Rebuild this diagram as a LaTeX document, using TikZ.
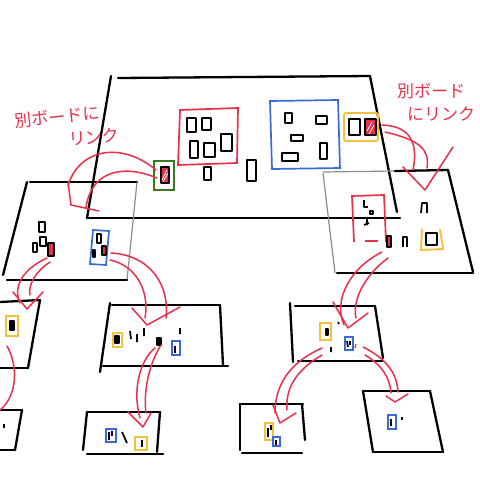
\documentclass[tikz,border=0pt]{standalone}
\usepackage{fontspec}
\newfontfamily\cjk{Noto Sans CJK JP}
\definecolor{skred}{HTML}{E8304A}
\definecolor{skblue}{HTML}{3B6AD6}
\definecolor{skyel}{HTML}{F5C040}
\definecolor{skgreen}{HTML}{3A7A1E}
\tikzset{
  board/.style={line width=2.3pt, line cap=round, line join=round},
  lightboard/.style={line width=1.2pt, black!45},
  sq/.style={line width=1.7pt, line join=round},
  rbox/.style={draw=skred, line width=1.7pt},
  bbox/.style={draw=skblue, line width=1.7pt},
  ybox/.style={draw=skyel, line width=1.9pt},
  gbox/.style={draw=skgreen, line width=1.9pt},
  arr/.style={draw=skred, line width=1.5pt, line cap=round, line join=round},
  lbl/.style={text=skred, font=\cjk\fontsize{17}{20}\selectfont, inner sep=0pt}
}
\begin{document}
\begin{tikzpicture}[x=1pt,y=-1pt]
\useasboundingbox (0,0) rectangle (480,480);

% ---------- main board ----------
\draw[board] (118,78) -- (370,76);
\draw[board] (111,76) -- (87,218);
\draw[board] (370,76) -- (397,212);
\draw[board] (87,218) -- (400,218);

% red group
\draw[rbox] (180,110) -- (238,108) -- (237,163) -- (178,165) -- cycle;
\draw[sq] (187,118) rectangle (196,132);
\draw[sq] (202,118) rectangle (211,130);
\draw[sq] (190,141) rectangle (198,158);
\draw[sq] (204,143) rectangle (215,157);
\draw[sq] (221,134) rectangle (232,151);
\draw[sq] (204,167) rectangle (211,180);
\draw[sq] (247,160) rectangle (256,181);
% green link
\draw[gbox] (154,161) rectangle (174,190);
\draw[sq, fill=skred] (161,167) rectangle (169,183);
\draw[white, line width=0.8pt] (162,180) -- (167,170) (163,182) -- (168,173);
% blue group
\draw[bbox] (270,101) -- (338,100) -- (340,168) -- (272,169) -- cycle;
\draw[sq] (285,113) rectangle (292,123);
\draw[sq] (316,116) rectangle (327,124);
\draw[sq] (291,135) rectangle (303,141);
\draw[sq] (282,153) rectangle (298,161);
\draw[sq] (320,143) rectangle (327,159);
% yellow link
\draw[ybox, rounded corners=2pt] (344,113) rectangle (378,141);
\draw[sq] (349,119) rectangle (360,135);
\draw[sq, fill=skred] (365,119) rectangle (376,135);
\draw[white, line width=0.8pt] (367,131) -- (372,122) (369,134) -- (374,125);

% ---------- labels ----------
\node[lbl, rotate=6] (lab1a) at (57,117) {別ボードに};
\node[lbl, rotate=4] (lab1b) at (94,137) {リンク};
\node[lbl] (lab2a) at (431,91) {別ボード};
\node[lbl] (lab2b) at (441,114) {にリンク};

% ---------- left board ----------
\draw[board] (30,182) -- (137,182);
\draw[board] (27,182) -- (3,275);
\draw[lightboard] (137,182) -- (127,280);
\draw[board] (7,280) -- (127,280);
\draw[sq] (39,222) rectangle (45,232);
\draw[sq] (40,237) rectangle (46,246);
\draw[sq] (33,243) rectangle (37,252);
\draw[sq, fill=skred] (48,243) rectangle (54,256);
\draw[bbox] (93,230) -- (109,231) -- (106,265) -- (90,264) -- cycle;
\draw[sq] (97,234) rectangle (101,243);
\draw[sq, fill=skred] (102,246) rectangle (106,255);
\draw[sq] (93,250) rectangle (95,257);

% ---------- right board ----------
\draw[lightboard] (323,172) -- (395,171);
\draw[board] (395,171) -- (448,170);
\draw[lightboard] (323,173) -- (335,273);
\draw[board] (448,170) -- (473,272);
\draw[board] (337,273) -- (473,273);
\draw[rbox] (354,242) -- (352,196) -- (384,195) -- (386,242);
\draw[rbox] (365,241) -- (378,241);
\draw[sq] (364,200) -- (364,207) -- (368,207) (370,211) rectangle (373,214);
\draw[sq] (364,218) -- (367,218) -- (367,225) (364,225) -- (369,223);
\draw[sq, fill=skred] (387,236) rectangle (391,247);
\draw[sq] (403,247) -- (403,237) -- (407,237) -- (407,247);
\draw[sq] (421,213) -- (422,203) -- (427,203) -- (427,213);
\draw[ybox] (422,229) -- (421,250) -- (443,249) -- (440,229);
\draw[sq] (426,233) rectangle (437,245);

% ---------- second row ----------
% far left
\draw[board] (0,302) -- (40,300);
\draw[board] (40,300) -- (28,368);
\draw[board] (0,368) -- (28,368);
\draw[ybox] (6,316) rectangle (18,336);
\draw[sq, fill=black] (10,321) rectangle (14,330);
% middle-left
\draw[board] (112,305) -- (220,305);
\draw[board] (110,303) -- (100,372);
\draw[board] (103,366) -- (228,366);
\draw[board] (220,305) -- (223,365);
\draw[ybox] (113,333) rectangle (122,347);
\draw[sq, fill=black] (115,336) rectangle (119,343);
\draw[sq] (130,331) -- (131,339) (137,334) -- (137,342) (144,328) -- (144,336) (180,328) -- (180,334);
\draw[sq, fill=black] (157,338) rectangle (161,345);
\draw[bbox] (172,341) rectangle (180,355);
\draw[sq] (175,346) -- (175,353);
% right-middle
\draw[board] (295,306) -- (375,306);
\draw[board] (290,303) -- (293,362);
\draw[board] (298,361) -- (383,361);
\draw[board] (375,306) -- (383,358);
\draw[ybox] (320,323) rectangle (331,340);
\draw[sq, fill=black] (326,329) rectangle (328,335);
\draw[sq] (338,322) -- (339,324) (331,347) -- (331,352);
\draw[bbox] (345,337) rectangle (353,350);
\draw[sq] (347,341) -- (348,347) (350,341) -- (350,345);
\draw[draw=skred, line width=1.2pt] (356,344) -- (355,348);

% ---------- third row ----------
% far left
\draw[board] (0,410) -- (22,410);
\draw[board] (22,410) -- (15,450);
\draw[board] (0,450) -- (15,450);
\draw[sq] (4,424) -- (4,428);
% middle
\draw[board] (87,412) -- (160,412);
\draw[board] (87,412) -- (83,450);
\draw[board] (87,454) -- (163,454);
\draw[board] (160,412) -- (157,452);
\draw[bbox] (106,429) rectangle (116,442);
\draw[sq] (109,432) -- (109,440) (112,431) -- (112,436);
\draw[sq] (122,432) -- (127,443);
\draw[ybox] (135,437) rectangle (147,450);
\draw[sq] (142,440) -- (142,447);
% middle-right
\draw[board] (240,404) -- (303,404);
\draw[board] (240,404) -- (240,450);
\draw[board] (242,453) -- (302,453);
\draw[board] (302,404) -- (305,440);
\draw[ybox] (265,423) rectangle (273,440);
\draw[sq] (268,428) -- (268,437) (271,425) -- (271,430);
\draw[bbox] (273,437) rectangle (280,446);
\draw[sq] (276,440) -- (276,445);
% right
\draw[board] (363,391) -- (430,391);
\draw[board] (363,391) -- (373,452);
\draw[board] (373,452) -- (443,452);
\draw[board] (430,391) -- (443,452);
\draw[bbox] (388,415) rectangle (396,429);
\draw[sq] (391,419) -- (391,426);
\draw[sq] (402,417) -- (402,420);

% ---------- arrows ----------
\coordinate (g1) at (156,170); \coordinate (g2) at (157,178);
\draw[arr] (g1) .. controls (120,140) and (78,150) .. (68,186);
\draw[arr] (g2) .. controls (118,162) and (90,175) .. (86,208);
\draw[arr] (68,182) -- (71,205) -- (99,211);

\coordinate (y1) at (382,125); \coordinate (y2) at (385,132);
\draw[arr] (y1) .. controls (412,126) and (418,145) .. (413,170);
\draw[arr] (y2) .. controls (420,140) and (430,150) .. (427,168);
\draw[arr] (403,167) -- (425,190) -- (453,147);

\coordinate (l1) at (47,258); \coordinate (l2) at (50,262);
\draw[arr] (l1) .. controls (25,268) and (12,285) .. (20,303);
\draw[arr] (l2) .. controls (35,272) and (28,285) .. (30,295);
\draw[arr] (13,292) -- (27,309) -- (43,292);

\coordinate (b1) at (111,253); \coordinate (b2) at (110,260);
\draw[arr] (b1) .. controls (150,255) and (170,285) .. (166,318);
\draw[arr] (b2) .. controls (135,265) and (150,290) .. (145,318);
\draw[arr] (132,308) -- (147,325) -- (180,307);

\coordinate (f1) at (7,346);
\draw[arr] (f1) .. controls (18,365) and (18,395) .. (0,410);

\coordinate (m1) at (155,348); \coordinate (m2) at (161,345);
\draw[arr] (m1) .. controls (140,360) and (132,390) .. (140,418);
\draw[arr] (m2) .. controls (150,362) and (143,390) .. (146,413);
\draw[arr] (128,412) -- (143,427) -- (151,413);

\coordinate (r1) at (382,252); \coordinate (r2) at (388,258);
\draw[arr] (r1) .. controls (350,268) and (333,300) .. (344,325);
\draw[arr] (r2) .. controls (365,275) and (352,300) .. (356,318);
\draw[arr] (333,302) -- (348,328) -- (368,313);

\coordinate (p1) at (322,348); \coordinate (p2) at (322,355);
\draw[arr] (p1) .. controls (295,360) and (275,380) .. (275,413);
\draw[arr] (p2) .. controls (300,368) and (285,385) .. (287,410);
\draw[arr] (273,405) -- (280,423) -- (296,413);

\coordinate (q1) at (363,347); \coordinate (q2) at (365,355);
\draw[arr] (q1) .. controls (385,358) and (397,372) .. (398,392);
\draw[arr] (q2) .. controls (382,365) and (390,378) .. (391,393);
\draw[arr] (386,396) -- (395,402) -- (408,394);
\end{tikzpicture}
\end{document}
